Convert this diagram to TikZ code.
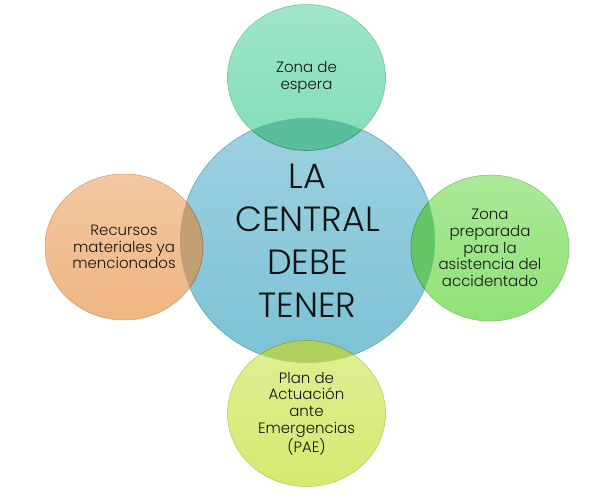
\documentclass[tikz,border=0pt]{standalone}
\usepackage{fontspec}
\setmainfont{Poppins}[UprightFont=* Light]
\usepackage{xcolor}
\usepackage{tikz}
\usetikzlibrary{shapes.geometric}
\definecolor{bubBlue}{RGB}{124,194,214}
\definecolor{bubTeal}{RGB}{128,222,182}
\definecolor{bubPeach}{RGB}{240,182,130}
\definecolor{bubGreen}{RGB}{144,226,118}
\definecolor{bubLime}{RGB}{212,234,112}
\definecolor{lensTeal}{RGB}{88,190,156}
\definecolor{lensPeach}{RGB}{194,160,116}
\definecolor{lensGreen}{RGB}{100,198,104}
\definecolor{lensLime}{RGB}{176,208,96}
\definecolor{txtDark}{RGB}{20,20,20}

\begin{document}
\begin{tikzpicture}[
        x=1pt, y=-1pt,
        font=\fontsize{15}{16.7}\selectfont\color{txtDark},
        bub/.style={ellipse, inner sep=0pt, align=center, text=txtDark,
            minimum width=158pt, minimum height=146pt, line width=0.5pt},
        big/.style={bub, minimum width=255pt, minimum height=245pt,
            font=\fontsize{35}{43}\selectfont},
        lens/.style={line width=0.6pt}
    ]
    \useasboundingbox (0,0) rectangle (612,503);
    \node[big, top color=bubBlue!75!white, bottom color=bubBlue, draw=bubBlue!80!black] (cen) at (307.5,240.5) {LA\\CENTRAL\\DEBE\\TENER};
    \node[bub, top color=bubTeal!75!white, bottom color=bubTeal, draw=bubTeal!85!black] (espera) at (306.5,77.5) {Zona de\\espera};
    \node[bub, top color=bubGreen!75!white, bottom color=bubGreen, draw=bubGreen!85!black] (asist) at (490,248) {Zona\\preparada\\para la\\asistencia del\\accidentado};
    \node[bub, top color=bubPeach!75!white, bottom color=bubPeach, draw=bubPeach!85!black] (recur) at (124,247) {Recursos\\materiales ya\\mencionados};
    \node[bub, top color=bubLime!75!white, bottom color=bubLime, draw=bubLime!85!black] (plan) at (306.5,413.5) {Plan de\\Actuaci\'on\\ante\\Emergencias\\(PAE)};
    \begin{scope}
        \clip (cen.center) ellipse [x radius=127.5pt, y radius=122.5pt];
        \filldraw[lens, fill=lensTeal, draw=lensTeal!75!black] (espera.center) ellipse [x radius=79pt, y radius=73pt];
        \filldraw[lens, fill=lensGreen, draw=lensGreen!75!black] (asist.center) ellipse [x radius=79pt, y radius=73pt];
        \filldraw[lens, fill=lensPeach, draw=lensPeach!75!black] (recur.center) ellipse [x radius=79pt, y radius=73pt];
        \filldraw[lens, fill=lensLime, draw=lensLime!75!black] (plan.center) ellipse [x radius=79pt, y radius=73pt];
    \end{scope}
\end{tikzpicture}
\end{document}
